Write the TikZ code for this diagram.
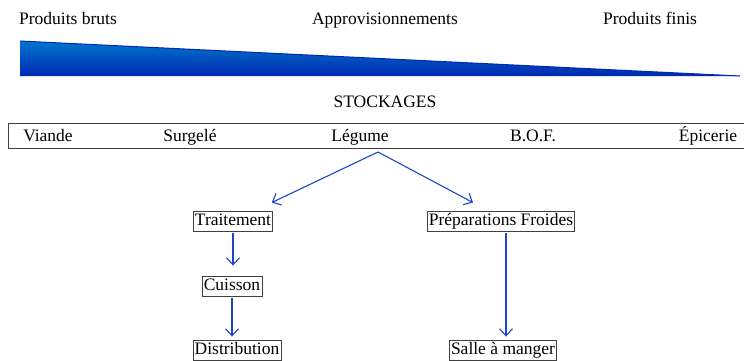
\documentclass[tikz,border=0pt]{standalone}
\usepackage{fontspec}
\setmainfont{Liberation Serif}
\usetikzlibrary{positioning, calc, arrows.meta}
\definecolor{bleuhaut}{RGB}{0,118,204}
\definecolor{bleubas}{RGB}{0,40,178}
\definecolor{bleufleche}{RGB}{30,70,200}
\tikzset{boite/.style={draw=black!75, inner xsep=1.5pt, inner ysep=2pt, text height=12.5pt, text depth=4pt}}
\tikzset{titre/.style={inner sep=0pt, anchor=base}}
\tikzset{fleche/.style={-{Straight Barb[length=7pt, width=13pt]}, draw=bleufleche, line width=1.1pt, shorten <=2pt, shorten >=3pt}}

\begin{document}
\begin{tikzpicture}[x=1pt, y=-1pt, font=\fontsize{17.5}{19}\selectfont]
      \useasboundingbox (0,0) rectangle (744,360);
      % bandeau des approvisionnements
      \node[titre] (bruts) at (68,24) {Produits bruts};
      \node[titre] (appro) at (385,24) {Approvisionnements};
      \node[titre] (finis) at (650,24) {Produits finis};
      \shade[top color=bleuhaut, bottom color=bleubas] (20,41) -- (740,76) -- (20,76) -- cycle;
      \draw[bleubas, line width=1pt] (20,41) -- (740,76);

      \node[titre] (stock) at (385,107) {STOCKAGES};
      \draw[black!75, line width=0.9pt] (746,123) -- (8,123) -- (8,148) -- (746,148);
      \node[titre] (viande) at (48,141) {Viande};
      \node[titre] (surg) at (190,141) {Surgelé};
      \node[titre] (legume) at (360,141) {Légume};
      \node[titre] (bof) at (533,141) {B.O.F.};
      \node[titre] (epic) at (708,141) {Épicerie};

      \node[boite] (trait) at (233,221) {Traitement};
      \node[boite] (prep) at (501,221) {Préparations Froides};
      \node[boite] (cuis) at (232,286) {Cuisson};
      \node[boite] (dist) at (237,350) {Distribution};
      \node[boite] (salle) at (503,350) {Salle à manger};

      \coordinate (fourche) at (378,152);
      \coordinate (versT) at ($(trait.north east)+(-1,-8)$);
      \coordinate (versP) at ($(prep.north)+(-28,-8)$);
      \draw[fleche, shorten <=0pt, shorten >=0pt] (fourche) -- (versT);
      \draw[fleche, shorten <=0pt, shorten >=0pt] (fourche) -- (versP);
      \draw[fleche, shorten >=10pt] (trait.south) -- (cuis.north -| trait.south);
      \draw[fleche] (cuis.south) -- (cuis.south |- dist.north);
      \draw[fleche] ($(prep.south)+(5,0)$) -- ($(prep.south |- salle.north)+(5,0)$);
\end{tikzpicture}
\end{document}
